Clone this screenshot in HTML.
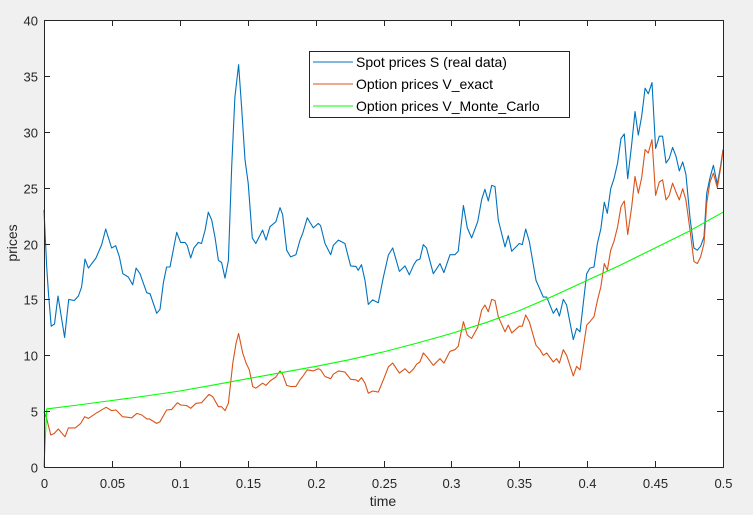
<!DOCTYPE html>
<html><head><meta charset="utf-8"><style>
body{margin:0;background:#f0f0f0;}
svg{display:block;font-family:"Liberation Sans",sans-serif;}
</style></head><body>
<svg id="chart" width="753" height="515" viewBox="0 0 753 515" xmlns="http://www.w3.org/2000/svg">
<rect x="0" y="0" width="753" height="515" fill="#f0f0f0"/>
<rect x="44" y="20" width="679" height="447" fill="#ffffff"/>
<g id="series"></g>
<g id="axes"></g>
<text x="383" y="506" font-size="14" fill="#262626" text-anchor="middle">time</text>
<text x="0" y="0" font-size="14" fill="#262626" text-anchor="middle" transform="translate(17,243) rotate(-90)">prices</text>
<g>
<rect x="309.5" y="51.5" width="260" height="66" fill="#fff" stroke="#262626" stroke-width="1"/>
<line x1="313" y1="62" x2="353" y2="62" stroke="#0072bd" stroke-width="1"/>
<text x="356" y="67" font-size="14" fill="#000">Spot prices S (real data)</text>
<line x1="313" y1="84" x2="353" y2="84" stroke="#d95319" stroke-width="1"/>
<text x="356" y="89" font-size="14" fill="#000">Option prices V_exact</text>
<line x1="313" y1="106" x2="353" y2="106" stroke="#00ff00" stroke-width="1"/>
<text x="356" y="111" font-size="14" fill="#000">Option prices V_Monte_Carlo</text>
</g>
</svg>
<script>
const spotT=[0,.002,.0033,.0053,.0077,.0103,.0152,.0182,.0223,.0253,.0277,.0302,.0327,.0383,.0425,.0454,.0498,.0528,.0555,.058,.0621,.0653,.0678,.0707,.0756,.0781,.083,.0854,.0879,.0903,.0928,.0977,.1006,.1038,.1055,.108,.1104,.1137,.116,.1186,.121,.1235,.126,.1284,.1308,.1333,.1358,.1382,.1406,.1433,.1455,.148,.1504,.1534,.156,.161,.1635,.1664,.1708,.1738,.1757,.1787,.1816,.1855,.1885,.1905,.1939,.1983,.202,.2037,.2069,.2111,.2131,.2168,.2216,.2258,.2297,.2314,.2338,.2364,.2388,.242,.2462,.2499,.2536,.2568,.2617,.2658,.269,.2723,.2744,.2768,.2793,.2817,.2867,.2916,.2945,.299,.3026,.305,.3088,.3117,.3149,.3194,.3223,.3247,.3272,.3297,.3321,.3345,.3395,.3419,.3444,.35,.3522,.3547,.3574,.3623,.3652,.3677,.3702,.375,.3775,.3795,.3824,.3848,.3898,.3922,.3947,.3996,.402,.405,.4075,.41,.4126,.4148,.4173,.4197,.4224,.4249,.4273,.4298,.4327,.4352,.4376,.4401,.4426,.445,.4477,.4504,.4531,.4555,.458,.4604,.4629,.4654,.4678,.4703,.4727,.4757,.4786,.4811,.4835,.486,.488,.4904,.4929,.4958,.4983,.5];
const spotV=[23,17.9,15.5,12.6,12.8,15.3,11.6,15,14.9,15.3,16.1,18.6,17.8,18.7,19.9,21.3,19.6,19.8,18.8,17.3,17,16.3,17.8,17.3,15.6,15.5,13.75,14.1,16.5,17.9,17.9,21,20.1,20.1,19.8,18.7,19.6,20.1,20,21.2,22.8,22.1,20.5,18.5,18.3,16.9,18.5,26.9,33.1,36,32.2,27.5,25.4,20.5,20,21.2,20.3,21.5,21.95,23.2,22.6,19.4,18.8,19,20.3,20.9,22.3,21.4,21.8,21.6,20,19,19.85,20.3,20,18,17.95,17.6,18.1,16.7,14.55,14.95,14.7,17,18.97,19.6,17.5,18,17.2,18.1,18.5,18.6,19.9,19.6,17.3,18.2,17.4,19,19,19.3,23.4,21.4,20.5,21.95,23.95,24.85,23.8,25.2,25.1,22.1,19.7,20.7,19.3,20,19.9,21.3,20.2,16.7,15.9,15.2,15.2,13.75,14.2,13.5,15,14.5,11.4,12.4,12.1,17.3,17.8,17.9,20,21.3,23.7,22.7,24.9,25.8,27.2,29.4,29.8,25.8,28.8,31.8,29.7,31.4,33.9,33.4,34.4,28.5,29.6,29.6,27.2,27.6,28.6,27.8,26.5,27.3,26.2,22.3,19.6,19.4,19.75,20.6,24.5,25.9,27,25.3,27,28.4];
const exactT=[0,.002,.005,.0075,.0105,.0155,.018,.023,.027,.03,.0327,.0388,.0457,.0498,.053,.0579,.0646,.0683,.072,.0757,.0776,.083,.0854,.0903,.094,.0982,.1006,.105,.108,.1119,.116,.1215,.1242,.1284,.1308,.1333,.1358,.139,.1414,.1433,.1463,.1488,.1512,.1537,.156,.161,.1635,.1664,.1708,.1738,.1757,.1787,.1816,.1855,.1885,.1905,.1939,.1983,.202,.2037,.2069,.2111,.2131,.2168,.2216,.2258,.2297,.2314,.2338,.2364,.2388,.242,.2462,.2499,.2536,.2568,.2617,.2658,.269,.2723,.2744,.2768,.2793,.2817,.2867,.2916,.2945,.299,.3026,.305,.3088,.3117,.3149,.3194,.3223,.3247,.3272,.3297,.3321,.3345,.3395,.3419,.3444,.35,.3522,.3547,.3574,.3623,.3652,.3677,.3702,.375,.3775,.3795,.3824,.3848,.3898,.3922,.3947,.3996,.402,.405,.4075,.41,.4126,.4148,.4173,.4197,.4224,.4249,.4273,.4298,.4327,.4352,.4376,.4401,.4426,.445,.4477,.4504,.4531,.4555,.458,.4604,.4629,.4654,.4678,.4703,.4727,.4757,.4786,.4811,.4835,.486,.488,.4904,.4929,.4958,.4983,.5];
const exactV=[4.95,4.3,2.86,3,3.4,2.7,3.5,3.5,3.9,4.5,4.35,4.85,5.34,5.05,5.1,4.5,4.4,4.8,4.65,4.3,4.3,3.9,4.05,5.1,5.15,5.75,5.55,5.5,5.25,5.7,5.75,6.5,6.3,5.4,5.4,5.05,5.7,9.3,11.05,11.95,10.2,9.3,8.7,7.2,7.05,7.5,7.3,7.7,8.05,8.6,8.3,7.3,7.2,7.2,7.8,8.1,8.7,8.6,8.8,8.7,8.1,7.9,8.3,8.6,8.5,7.85,7.8,7.65,8,7.5,6.6,6.8,6.7,7.8,8.97,9.3,8.4,8.8,8.4,8.8,9.2,9.4,10.2,9.9,9.1,9.7,9.3,10.35,10.5,10.8,13,11.8,11.5,12.5,14.05,14.5,13.9,15,14.9,13.45,12.1,12.7,12,12.6,12.6,13.6,13,10.9,10.5,10,10.2,9.4,9.7,9.3,10.5,10,8.15,9,8.7,12.7,13,13.45,14.9,16.1,18.2,17.6,19.4,20.2,21.5,23.3,23.8,20.8,23.2,26,24.5,25.9,28.4,28.1,29.3,24.3,25.5,25.7,23.9,24.3,25.4,24.6,23.9,24.9,23.9,21.2,18.4,18.2,18.8,20,23.6,25.5,26.3,25,26.8,28.3];
const mcT=[0,.002,.025,.05,.075,.1,.125,.15,.175,.2,.225,.25,.275,.3,.325,.35,.375,.4,.425,.45,.475,.5];
const mcV=[0,5.2,5.55,5.95,6.35,6.8,7.35,7.9,8.45,9,9.6,10.3,11.1,11.95,12.9,14,15.3,16.7,18.1,19.6,21.1,22.8];
const xTicks=[0,0.05,0.1,0.15,0.2,0.25,0.3,0.35,0.4,0.45,0.5];
const xTickLabels=["0","0.05","0.1","0.15","0.2","0.25","0.3","0.35","0.4","0.45","0.5"];
const yTicks=[0,5,10,15,20,25,30,35,40];
const yTickLabels=["0","5","10","15","20","25","30","35","40"];

const L=44,R=723,T=20,B=467;
const xs=t=>L+(t/0.5)*(R-L);
const ys=v=>B-(v/40)*(B-T);
const NS="http://www.w3.org/2000/svg";
const series=document.getElementById('series');
function drawLine(tArr,vArr,color,name){
  const p=document.createElementNS(NS,'polyline');
  p.setAttribute('points',tArr.map((t,i)=>xs(t).toFixed(1)+','+ys(vArr[i]).toFixed(1)).join(' '));
  p.setAttribute('fill','none');p.setAttribute('stroke',color);p.setAttribute('stroke-width','1.1');
  p.setAttribute('stroke-linejoin','round');
  
  
  series.appendChild(p);
}
drawLine(spotT,spotV,'#0072bd','spot-price-line');
drawLine(exactT,exactV,'#d95319','exact-option-line');
drawLine(mcT,mcV,'#00ff00','monte-carlo-line');

const axes=document.getElementById('axes');
const frame=document.createElementNS(NS,'rect');
frame.setAttribute('x',L+0.5);frame.setAttribute('y',T+0.5);frame.setAttribute('width',R-L);frame.setAttribute('height',B-T);
frame.setAttribute('fill','none');frame.setAttribute('stroke','#262626');


axes.appendChild(frame);
xTicks.forEach((t,i)=>{
  const x=Math.round(xs(t))+0.5;
  [[B,B-6],[T,T+6]].forEach(([a,b])=>{
    const l=document.createElementNS(NS,'line');
    l.setAttribute('x1',x);l.setAttribute('x2',x);l.setAttribute('y1',a);l.setAttribute('y2',b);l.setAttribute('stroke','#262626');
    
    
    axes.appendChild(l);
  });
  const tx=document.createElementNS(NS,'text');
  tx.setAttribute('x',x);tx.setAttribute('y',488);tx.setAttribute('font-size','13');tx.setAttribute('fill','#262626');tx.setAttribute('text-anchor','middle');
  tx.textContent=xTickLabels[i];
  
  
  axes.appendChild(tx);
});
yTicks.forEach((v,i)=>{
  const y=Math.round(ys(v))+0.5;
  [[L,L+6],[R,R-6]].forEach(([a,b])=>{
    const l=document.createElementNS(NS,'line');
    l.setAttribute('x1',a);l.setAttribute('x2',b);l.setAttribute('y1',y);l.setAttribute('y2',y);l.setAttribute('stroke','#262626');
    
    
    axes.appendChild(l);
  });
  const tx=document.createElementNS(NS,'text');
  tx.setAttribute('x',38);tx.setAttribute('y',y+5);tx.setAttribute('font-size','13');tx.setAttribute('fill','#262626');tx.setAttribute('text-anchor','end');
  tx.textContent=yTickLabels[i];
  
  
  axes.appendChild(tx);
});
</script>
</body></html>
